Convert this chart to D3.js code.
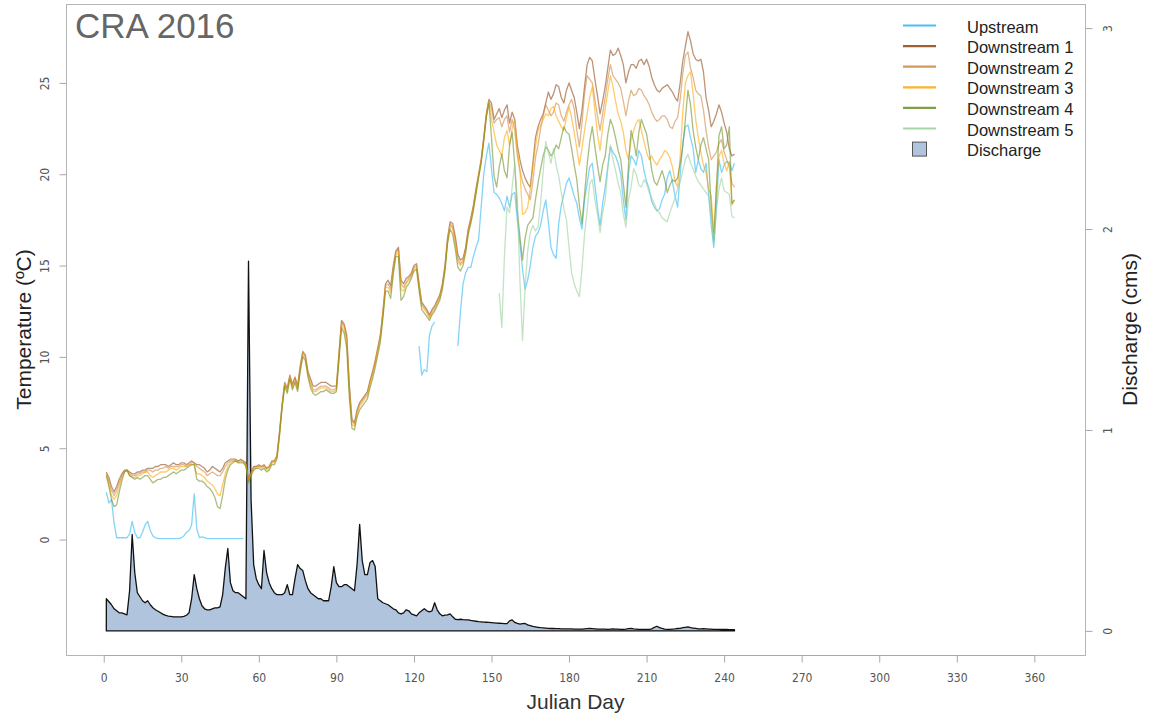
<!DOCTYPE html>
<html>
<head>
<meta charset="utf-8">
<title>CRA 2016</title>
<script src="https://cdn.jsdelivr.net/npm/d3@7"></script>
<style>
  body { margin: 0; background: #fff; }
  svg { display: block; }
</style>
</head>
<body>
<svg id="chart" width="1150" height="719"></svg>
<script>
// ---------------------------------------------------------------
// Daily stream temperature (ºC) and discharge (cms), CRA 2016
// Each array starts at the Julian day given next to it.
// ---------------------------------------------------------------

const title = "CRA 2016";
const xTicks = [0, 30, 60, 90, 120, 150, 180, 210, 240, 270, 300, 330, 360];
const tempTicks = [0, 5, 10, 15, 20, 25];
const dischargeTicks = [0, 1, 2, 3];

const seriesNames = ["Upstream", "Downstream 1", "Downstream 2", "Downstream 3", "Downstream 4", "Downstream 5"];
const seriesColors = ["#29b5f2", "#8b4513", "#cd853f", "#ffa500", "#6b8e23", "#98cf98"];

// Upstream logger: three recording periods
const upstreamStartA = 1;
const upstreamA = [
  2.6, 2.0, 2.2, 0.9, 0.1, 0.1, 0.1, 0.1, 0.1, 0.3,
  1.0, 0.4, 0.1, 0.1, 0.4, 0.8, 1.0, 0.5, 0.2, 0.1,
  0.05, 0.05, 0.05, 0.05, 0.05, 0.05, 0.05, 0.05, 0.05, 0.1,
  0.2, 0.4, 0.5, 0.8, 2.5, 0.6, 0.1, 0.15, 0.1, 0.05,
  0.05, 0.05, 0.05, 0.05, 0.05, 0.05, 0.05, 0.05, 0.05, 0.05,
  0.05, 0.05, 0.05, 0.05
];
const upstreamStartB = 122;
const upstreamB = [10.6, 9.0, 9.3, 9.2, 11.2, 11.7, 11.9];
const upstreamStartC = 137;
const upstreamC = [
  10.6, 12.5, 14.0, 14.6,
  14.9, 14.9, 15.5, 16.0, 16.4, 18.2, 20.0, 21.0, 21.7, 20.3,
  19.0, 18.9, 18.7, 18.4, 18.0, 18.8, 18.2, 18.9, 19.0, 17.5,
  16.2, 14.8, 13.7, 14.2, 15.0, 16.0, 16.6, 16.8, 17.2, 18.0,
  18.6, 17.4, 16.0, 15.6, 15.4, 17.3, 18.3, 18.9, 19.5, 19.8,
  19.3, 18.8, 18.4, 17.6, 17.0, 18.6, 19.5, 20.4, 20.6, 19.4,
  18.2, 17.2, 18.4, 19.3, 20.4, 21.5, 21.2, 21.0, 20.6, 20.0,
  18.6, 17.5, 20.0, 21.0, 20.8, 20.5, 21.3, 21.0, 20.2, 19.6,
  19.2, 18.5, 18.2, 18.0, 18.1, 18.6, 18.9, 19.8, 20.2, 19.6,
  18.8, 18.2, 20.0, 21.7, 22.6, 22.7, 22.0, 21.4, 20.1, 20.8,
  20.3, 20.1, 20.6, 18.9, 17.2, 16.0, 18.2, 20.8, 20.1, 20.5,
  20.7, 20.6, 20.2, 20.6
];

const downStart = 1;
const down1 = [
  3.7, 3.4, 2.9, 2.6, 2.9, 3.3, 3.6, 3.8, 3.8, 3.7,
  3.6, 3.6, 3.7, 3.7, 3.8, 3.8, 3.9, 3.9, 3.9, 4.0,
  4.0, 4.1, 4.1, 4.1, 4.0, 4.1, 4.2, 4.1, 4.1, 4.2,
  4.2, 4.1, 4.2, 4.3, 4.2, 4.1, 4.1, 4.0, 3.9, 3.7,
  3.8, 4.0, 3.9, 3.8, 3.7, 3.9, 4.2, 4.3, 4.4, 4.4,
  4.4, 4.3, 4.4, 4.3, 4.2, 3.3, 3.7, 4.0, 4.0, 4.1,
  4.0, 4.1, 3.9, 4.0, 4.3, 4.3, 4.6, 5.9, 7.4, 8.6,
  8.3, 9.0, 8.5, 8.9, 8.4, 9.5, 10.3, 10.1, 9.2, 8.8,
  8.4, 8.4, 8.5, 8.6, 8.6, 8.6, 8.5, 8.4, 8.4, 8.4,
  10.2, 12.0, 11.8, 11.2, 8.5, 6.6, 6.4, 7.1, 7.5, 7.7,
  7.9, 8.1, 8.7, 9.2, 9.8, 10.5, 11.2, 12.5, 14.0, 14.2,
  13.9, 15.0, 15.8, 16.0, 14.2, 14.0, 14.3, 14.4, 14.6, 15.0,
  15.1, 14.0, 13.0, 12.8, 12.6, 12.3, 12.6, 12.8, 13.1, 13.4,
  14.0, 15.0, 16.5, 17.4, 17.3, 16.6, 15.6, 15.3, 15.4, 16.0,
  17.0, 17.6, 18.3, 19.2, 20.0, 20.8, 22.0, 23.3, 24.1, 23.9,
  23.0, 23.3, 23.6, 23.1, 23.5, 23.8, 22.8, 23.4, 23.0, 21.6,
  20.8, 20.2, 19.8, 19.5, 19.3, 20.6, 22.0, 22.6, 23.0, 23.3,
  23.9, 24.5, 24.1, 24.4, 24.9, 24.8, 24.2, 23.9, 24.6, 25.0,
  24.6, 24.2, 23.4, 22.5, 23.5, 24.8, 26.0, 26.4, 26.2, 25.2,
  24.3, 23.3, 24.0, 24.8, 25.8, 26.8, 26.5, 26.6, 26.9, 26.5,
  26.0, 25.0, 25.6, 26.0, 26.0, 25.8, 26.2, 26.3, 26.0, 26.3,
  25.9, 25.3, 24.9, 24.6, 24.5, 24.7, 24.8, 24.9, 24.7, 24.5,
  24.2, 24.0, 25.0, 26.2, 27.0, 27.8, 27.3, 26.6, 26.3, 26.2,
  26.3, 25.6, 24.2, 23.5, 22.6, 22.9, 23.3, 23.8, 23.4, 22.8,
  22.3, 21.4, 21.0, 21.1
];
const down2 = [
  3.6, 3.2, 2.7, 2.4, 2.7, 3.1, 3.5, 3.7, 3.8, 3.6,
  3.5, 3.5, 3.6, 3.6, 3.7, 3.7, 3.8, 3.8, 3.7, 3.8,
  3.8, 3.9, 3.9, 4.0, 3.9, 4.0, 4.0, 4.0, 4.0, 4.1,
  4.1, 4.0, 4.1, 4.2, 4.2, 4.0, 3.9, 3.8, 3.7, 3.5,
  3.6, 3.7, 3.6, 3.5, 3.5, 3.7, 4.0, 4.2, 4.3, 4.3,
  4.3, 4.3, 4.3, 4.3, 4.1, 3.3, 3.6, 3.9, 4.0, 4.0,
  4.0, 4.0, 3.9, 4.0, 4.2, 4.3, 4.5, 5.8, 7.3, 8.5,
  8.2, 8.9, 8.4, 8.8, 8.3, 9.4, 10.2, 10.0, 9.1, 8.6,
  8.2, 8.2, 8.3, 8.4, 8.4, 8.4, 8.3, 8.2, 8.2, 8.3,
  10.1, 11.9, 11.7, 11.0, 8.3, 6.5, 6.3, 7.0, 7.4, 7.6,
  7.8, 8.0, 8.6, 9.1, 9.7, 10.4, 11.1, 12.4, 13.9, 14.0,
  13.7, 14.8, 15.7, 15.9, 14.0, 13.8, 14.1, 14.3, 14.5, 14.9,
  15.0, 13.9, 12.9, 12.7, 12.5, 12.2, 12.5, 12.7, 13.0, 13.3,
  13.9, 14.9, 16.4, 17.3, 17.1, 16.4, 15.4, 15.1, 15.3, 15.9,
  16.9, 17.5, 18.2, 19.1, 19.9, 20.7, 21.9, 23.2, 24.0, 23.6,
  22.8, 23.0, 23.1, 22.6, 23.0, 23.2, 22.3, 23.0, 22.4, 21.0,
  20.2, 19.6, 19.2, 18.9, 18.6, 19.6, 20.9, 21.6, 22.5, 23.2,
  23.8, 23.5, 23.2, 23.4, 23.9, 23.8, 23.2, 22.9, 23.4, 23.8,
  24.1, 23.6, 22.4, 21.5, 22.8, 24.4, 25.4, 25.2, 25.0, 24.1,
  23.2, 22.4, 23.3, 24.2, 25.2, 26.0, 25.4, 25.2, 25.0, 24.7,
  24.0, 23.2, 24.0, 24.6, 24.3, 24.4, 24.7, 24.6, 24.3, 24.1,
  23.8, 23.4, 23.1, 22.9, 23.0, 23.2, 23.2, 23.0, 22.6, 22.5,
  22.9, 23.1, 24.1, 25.5, 26.5, 26.7, 25.8, 25.3, 24.6, 24.4,
  24.3, 23.5, 22.4, 21.5, 20.8, 21.0, 21.2, 21.7, 21.9, 21.2,
  20.8, 20.4, 19.5, 19.3
];
const down3 = [
  3.6, 3.0, 2.4, 2.2, 2.4, 2.9, 3.4, 3.7, 3.8, 3.5,
  3.4, 3.4, 3.5, 3.5, 3.6, 3.7, 3.7, 3.5, 3.4, 3.5,
  3.6, 3.7, 3.7, 3.7, 3.8, 3.9, 3.9, 3.8, 3.9, 4.0,
  4.0, 4.0, 4.1, 4.1, 4.1, 3.6, 3.6, 3.5, 3.4, 3.2,
  3.1, 3.0, 2.8, 2.5, 2.4, 3.0, 3.6, 4.0, 4.2, 4.3,
  4.3, 4.2, 4.3, 4.2, 4.1, 3.2, 3.6, 3.9, 3.9, 4.0,
  3.9, 4.0, 3.8, 3.9, 4.2, 4.2, 4.5, 5.8, 7.3, 8.5,
  8.1, 8.9, 8.3, 8.7, 8.2, 9.3, 10.1, 9.9, 9.0, 8.5,
  8.1, 8.1, 8.2, 8.3, 8.3, 8.3, 8.2, 8.1, 8.1, 8.2,
  10.0, 11.8, 11.5, 10.8, 8.1, 6.3, 6.2, 6.9, 7.3, 7.5,
  7.7, 7.9, 8.5, 9.0, 9.6, 10.3, 11.0, 12.3, 13.8, 13.8,
  13.5, 14.7, 15.6, 15.7, 13.7, 13.6, 14.0, 14.2, 14.4, 14.8,
  14.9, 13.8, 12.8, 12.6, 12.4, 12.1, 12.4, 12.6, 12.9, 13.2,
  13.8, 14.8, 16.3, 17.2, 17.0, 16.2, 15.2, 15.0, 15.2, 15.8,
  16.8, 17.4, 18.1, 19.0, 19.9, 20.7, 21.9, 23.2, 24.0, 23.0,
  22.3, 21.6, 21.3, 21.0, 22.0, 22.4, 21.6, 22.5, 23.0, 21.4,
  20.2, 17.8, 17.9, 18.2, 19.2, 20.4, 21.5, 22.4, 22.7, 23.0,
  23.3, 23.2, 23.6, 23.7, 23.2, 22.9, 22.6, 22.4, 23.1, 23.7,
  23.1, 22.3, 21.4, 20.5, 21.4, 22.4, 23.3, 24.2, 24.8, 23.5,
  22.2, 21.3, 22.6, 23.6, 24.5, 25.4, 24.8, 24.0, 23.3, 22.9,
  22.3, 21.3, 20.8, 21.9, 22.4, 22.8, 23.0, 22.4, 21.8, 21.2,
  20.8, 21.0, 20.7, 20.5, 20.8, 21.0, 21.3, 21.2, 20.9, 20.4,
  19.6, 19.3, 21.0, 23.4, 25.0, 25.4, 25.6, 24.4, 23.0, 22.0,
  21.2, 20.5, 20.1, 19.2, 18.8, 16.8, 19.3, 21.0, 21.3, 20.6,
  20.2, 20.7, 18.3, 18.6
];
const down4 = [
  3.5, 2.9, 2.2, 1.8, 1.9, 2.6, 3.2, 3.7, 3.8, 3.5,
  3.4, 3.3, 3.4, 3.3, 3.4, 3.5, 3.5, 3.3, 3.1, 3.2,
  3.3, 3.3, 3.4, 3.4, 3.5, 3.6, 3.7, 3.6, 3.7, 3.8,
  3.8, 3.9, 4.0, 4.1, 4.1, 3.3, 3.2, 3.2, 3.1, 2.9,
  2.8, 2.6, 2.3, 1.8, 1.7, 2.4, 3.3, 3.8, 4.1, 4.2,
  4.3, 4.2, 4.2, 4.2, 4.0, 3.1, 3.5, 3.8, 3.9, 3.9,
  3.8, 3.9, 3.7, 3.8, 4.1, 4.1, 4.4, 5.7, 7.2, 8.4,
  8.0, 8.8, 8.2, 8.6, 8.1, 9.2, 10.0, 9.8, 8.9, 8.3,
  8.0, 7.9, 8.0, 8.1, 8.1, 8.2, 8.1, 8.0, 8.0, 8.1,
  9.8, 11.6, 11.3, 10.5, 7.8, 6.1, 6.0, 6.7, 7.1, 7.3,
  7.5, 7.7, 8.3, 8.8, 9.4, 10.1, 10.8, 12.1, 13.6, 13.6,
  13.2, 14.5, 15.5, 15.5, 13.1, 13.3, 13.8, 14.0, 14.3, 14.7,
  14.8, 13.6, 12.6, 12.4, 12.2, 12.0, 12.3, 12.5, 12.8, 13.1,
  13.7, 14.7, 16.2, 17.0, 16.7, 15.9, 14.9, 14.7, 15.0, 15.7,
  16.7, 17.3, 18.0, 18.9, 19.8, 20.6, 21.8, 23.1, 23.9, 22.0,
  19.9, 19.3, 20.4, 21.1, 20.2, 19.8, 21.6, 22.3, 20.5, 18.0,
  16.6, 15.3, 16.5, 17.2, 17.4, 17.6, 18.6, 19.5, 20.3, 21.0,
  21.5, 21.3, 21.0, 21.2, 21.6, 21.4, 22.0, 22.6, 22.3, 22.2,
  21.4, 20.5, 19.7, 18.3, 17.3, 18.9, 20.5, 21.8, 22.6, 21.5,
  20.5, 19.6, 20.5, 21.0, 22.2, 23.0, 22.6, 22.0, 21.3, 20.8,
  19.5, 18.2, 20.5, 22.4, 21.8, 21.0, 22.3, 23.0, 22.6, 22.2,
  21.3, 20.2, 19.6, 19.4, 19.8, 20.2, 19.7, 19.0, 19.4, 19.7,
  19.6, 19.8, 20.6, 21.5, 23.0, 24.6, 23.8, 22.4, 21.5, 20.8,
  21.6, 22.0, 21.4, 20.8, 18.2, 16.4, 19.2, 22.1, 22.6, 21.4,
  21.6, 22.6, 18.4, 18.6
];
const down5Start = 153;
const down5 = [
  13.5, 11.6, 15.5, 18.2, 17.9, 19.3, 20.6, 18.6,
  14.2, 10.9, 13.8, 15.8, 16.8, 17.2, 16.9, 17.1, 18.4, 20.2,
  21.8, 21.2, 20.6, 21.4, 20.5, 19.9, 19.0, 18.1, 17.5, 16.0,
  14.6, 14.0, 13.6, 13.3, 14.8, 16.7, 18.0, 19.5, 19.7, 18.6,
  17.8, 16.8, 17.9, 18.6, 20.3, 21.6, 20.8, 20.2, 19.5, 19.0,
  17.8, 17.1, 18.6, 19.3, 20.3, 20.0, 19.4, 19.3, 19.7, 19.5,
  19.0, 18.7, 18.4, 18.0, 17.9, 17.6, 17.5, 17.4, 17.9, 18.3,
  18.7, 19.2, 19.6, 20.2, 20.8, 21.1, 20.6, 20.3, 19.9, 19.6,
  19.4, 19.2, 19.0, 18.8, 17.8, 16.2, 18.0, 19.2, 19.8, 19.1,
  19.0, 18.9, 17.7, 17.6
];

const dischargeStart = 1;
const discharge = [
  0.16, 0.145, 0.13, 0.11, 0.10, 0.09, 0.09, 0.085, 0.08, 0.20,
  0.48, 0.29, 0.19, 0.17, 0.15, 0.14, 0.15, 0.13, 0.115, 0.105,
  0.098, 0.09, 0.082, 0.077, 0.074, 0.072, 0.07, 0.07, 0.07, 0.07,
  0.072, 0.078, 0.09, 0.16, 0.28, 0.21, 0.16, 0.125, 0.11, 0.105,
  0.105, 0.11, 0.115, 0.115, 0.12, 0.18, 0.31, 0.41, 0.24, 0.20,
  0.19, 0.19, 0.18, 0.17, 0.16, 1.84, 0.65, 0.33, 0.26, 0.23,
  0.21, 0.40, 0.29, 0.24, 0.21, 0.19, 0.18, 0.18, 0.18, 0.19,
  0.23, 0.18, 0.18, 0.26, 0.33, 0.31, 0.30, 0.25, 0.21, 0.19,
  0.18, 0.17, 0.16, 0.16, 0.15, 0.15, 0.15, 0.22, 0.32, 0.24,
  0.22, 0.22, 0.23, 0.23, 0.22, 0.21, 0.20, 0.33, 0.53, 0.35,
  0.28, 0.28, 0.34, 0.35, 0.32, 0.16, 0.15, 0.14, 0.135, 0.13,
  0.12, 0.11, 0.105, 0.09, 0.085, 0.09, 0.105, 0.10, 0.085, 0.08,
  0.075, 0.09, 0.10, 0.11, 0.10, 0.095, 0.10, 0.14, 0.105, 0.085,
  0.075, 0.078, 0.08, 0.085, 0.07, 0.058, 0.056, 0.058, 0.056, 0.055,
  0.055, 0.052, 0.05, 0.048, 0.046, 0.045, 0.044, 0.043, 0.042, 0.041,
  0.04, 0.039, 0.038, 0.037, 0.036, 0.036, 0.05, 0.055, 0.042, 0.037,
  0.034, 0.036, 0.037, 0.03, 0.026, 0.022, 0.02, 0.018, 0.016, 0.015,
  0.014, 0.013, 0.012, 0.012, 0.011, 0.011, 0.01, 0.01, 0.01, 0.01,
  0.01, 0.009, 0.009, 0.009, 0.009, 0.01, 0.011, 0.012, 0.011, 0.01,
  0.009, 0.009, 0.009, 0.009, 0.008, 0.009, 0.01, 0.009, 0.009, 0.008,
  0.008, 0.009, 0.011, 0.012, 0.01, 0.009, 0.008, 0.008, 0.008, 0.008,
  0.008, 0.01, 0.018, 0.023, 0.016, 0.012, 0.009, 0.008, 0.008, 0.009,
  0.01, 0.012, 0.013, 0.016, 0.018, 0.02, 0.016, 0.014, 0.012, 0.01,
  0.01, 0.011, 0.01, 0.009, 0.009, 0.008, 0.008, 0.008, 0.007, 0.007,
  0.007, 0.006, 0.006, 0.006
];

// ---------------------------------------------------------------
// Build point lists (day, value) for each recording period
// ---------------------------------------------------------------
const toPoints = (start, values) => values.map((v, i) => ({ day: start + i, value: v }));

const tempSeries = [
  { name: seriesNames[0], color: seriesColors[0],
    segments: [toPoints(upstreamStartA, upstreamA), toPoints(upstreamStartB, upstreamB), toPoints(upstreamStartC, upstreamC)] },
  { name: seriesNames[1], color: seriesColors[1], segments: [toPoints(downStart, down1)] },
  { name: seriesNames[2], color: seriesColors[2], segments: [toPoints(downStart, down2)] },
  { name: seriesNames[3], color: seriesColors[3], segments: [toPoints(downStart, down3)] },
  { name: seriesNames[4], color: seriesColors[4], segments: [toPoints(downStart, down4)] },
  { name: seriesNames[5], color: seriesColors[5], segments: [toPoints(down5Start, down5)] }
];
const dischargePoints = toPoints(dischargeStart, discharge);

// ---------------------------------------------------------------
// Layout and scales
// ---------------------------------------------------------------
const box = { left: 66, right: 1085, top: 4, bottom: 655 };
const FONT = "'Liberation Sans', Arial, Helvetica, sans-serif";
const NARROW = "'Liberation Sans Narrow', 'Arial Narrow', 'DejaVu Sans Condensed', sans-serif";

const x = d3.scaleLinear().domain([-14.6, 379.6]).range([box.left, box.right]);
const yTemp = d3.scaleLinear().domain([-6.32, 29.32]).range([box.bottom, box.top]);
const yFlow = d3.scaleLinear().domain([-0.12, 3.12]).range([box.bottom, box.top]);

const svg = d3.select("#chart");
svg.append("rect").attr("width", 1150).attr("height", 719).attr("fill", "#fff");

// Discharge polygon (right axis)
const flowArea = d3.area()
  .x(d => x(d.day))
  .y0(yFlow(0))
  .y1(d => yFlow(d.value));
svg.append("path")
  .datum(dischargePoints)
  .attr("d", flowArea)
  .attr("fill", "#b0c4de")
  .attr("stroke", "none");
// Outline, closed along the zero line like a drawn polygon
const flowOutline = d3.line().x(d => x(d.day)).y(d => yFlow(d.value));
const firstDay = dischargePoints[0].day, lastDay = dischargePoints[dischargePoints.length - 1].day;
svg.append("path")
  .datum(dischargePoints)
  .attr("d", d => flowOutline(d) + `L${x(lastDay)},${yFlow(0)}L${x(firstDay)},${yFlow(0)}Z`)
  .attr("fill", "none")
  .attr("stroke", "#111")
  .attr("stroke-width", 1.3)
  .attr("stroke-linejoin", "round");

// Temperature lines (left axis)
const tempLine = d3.line()
  .defined(d => d.value != null)
  .x(d => x(d.day))
  .y(d => yTemp(d.value));

const lineGroup = svg.append("g").attr("fill", "none");
tempSeries.forEach(s => {
  lineGroup.selectAll(null)
    .data(s.segments)
    .join("path")
    .attr("d", tempLine)
    .attr("stroke", s.color)
    .attr("stroke-opacity", 0.58)
    .attr("stroke-width", 1.3)
    .attr("stroke-linejoin", "round");
});

// Plot frame
svg.append("rect")
  .attr("x", box.left + 0.5).attr("y", box.top + 0.5)
  .attr("width", box.right - box.left).attr("height", box.bottom - box.top)
  .attr("fill", "none").attr("stroke", "#b5b5b5").attr("stroke-width", 1);

// ---------------------------------------------------------------
// Axes
// ---------------------------------------------------------------
const axisColor = "#a8a8a8";
const labelColor = "#555";

function styleAxis(g) {
  g.select(".domain").remove();
  g.selectAll(".tick line").attr("stroke", axisColor);
  g.selectAll(".tick text").attr("fill", labelColor).attr("font-family", NARROW).attr("font-size", 12);
}

// Bottom axis
const gx = svg.append("g")
  .attr("transform", `translate(0,${box.bottom + 0.5})`)
  .call(d3.axisBottom(x).tickValues(xTicks).tickSize(7).tickSizeOuter(0))
  .call(styleAxis);
gx.append("line")
  .attr("x1", x(xTicks[0])).attr("x2", x(xTicks[xTicks.length - 1]))
  .attr("stroke", axisColor);
gx.selectAll(".tick text").attr("y", 22).attr("dy", null).attr("dominant-baseline", "central");

// Vertical axes carry labels turned to read bottom-to-top
function rotateLabels(g, offset) {
  g.selectAll(".tick text")
    .attr("x", null).attr("y", null).attr("dy", null)
    .attr("transform", `translate(${offset},0) rotate(-90)`)
    .attr("text-anchor", "middle")
    .attr("dominant-baseline", "central");
}

// Left axis (temperature)
const gy = svg.append("g")
  .attr("transform", `translate(${box.left + 0.5},0)`)
  .call(d3.axisLeft(yTemp).tickValues(tempTicks).tickFormat(d3.format("d")).tickSize(7).tickSizeOuter(0))
  .call(styleAxis);
rotateLabels(gy, -22);

// Right axis (discharge)
const gy2 = svg.append("g")
  .attr("transform", `translate(${box.right + 0.5},0)`)
  .call(d3.axisRight(yFlow).tickValues(dischargeTicks).tickFormat(d3.format("d")).tickSize(7).tickSizeOuter(0))
  .call(styleAxis);
rotateLabels(gy2, 22);

// Axis titles
const midY = (box.top + box.bottom) / 2;
svg.append("text")
  .attr("transform", `translate(23,${midY}) rotate(-90)`)
  .attr("text-anchor", "middle").attr("dominant-baseline", "central")
  .attr("font-family", FONT).attr("font-size", 21).attr("fill", "#222")
  .text("Temperature (ºC)");
svg.append("text")
  .attr("transform", `translate(1129,${midY}) rotate(-90)`)
  .attr("text-anchor", "middle").attr("dominant-baseline", "central")
  .attr("font-family", FONT).attr("font-size", 21).attr("fill", "#222")
  .text("Discharge (cms)");
svg.append("text")
  .attr("x", (box.left + box.right) / 2).attr("y", 701)
  .attr("text-anchor", "middle").attr("dominant-baseline", "central")
  .attr("font-family", FONT).attr("font-size", 21).attr("fill", "#333")
  .text("Julian Day");

// Title inside the frame
svg.append("text")
  .attr("x", 75).attr("y", 38)
  .attr("font-family", FONT).attr("font-size", 35).attr("fill", "#666")
  .text(title);

// ---------------------------------------------------------------
// Legend
// ---------------------------------------------------------------
const legendRowY = i => 25.5 + i * 20.6;
const legend = svg.append("g");
tempSeries.forEach((s, i) => {
  legend.append("line")
    .attr("x1", 903).attr("x2", 936)
    .attr("y1", legendRowY(i)).attr("y2", legendRowY(i))
    .attr("stroke", s.color).attr("stroke-width", 2.2).attr("stroke-opacity", 0.85);
  legend.append("text")
    .attr("x", 967).attr("y", legendRowY(i) + 1)
    .attr("dominant-baseline", "central")
    .attr("font-family", FONT).attr("font-size", 16.5).attr("fill", "#222")
    .text(s.name);
});
legend.append("rect")
  .attr("x", 912.5).attr("y", legendRowY(6) - 7)
  .attr("width", 14).attr("height", 14)
  .attr("fill", "#b0c4de").attr("stroke", "#555").attr("stroke-width", 1);
legend.append("text")
  .attr("x", 967).attr("y", legendRowY(6) + 1)
  .attr("dominant-baseline", "central")
  .attr("font-family", FONT).attr("font-size", 16.5).attr("fill", "#222")
  .text("Discharge");
</script>
</body>
</html>
